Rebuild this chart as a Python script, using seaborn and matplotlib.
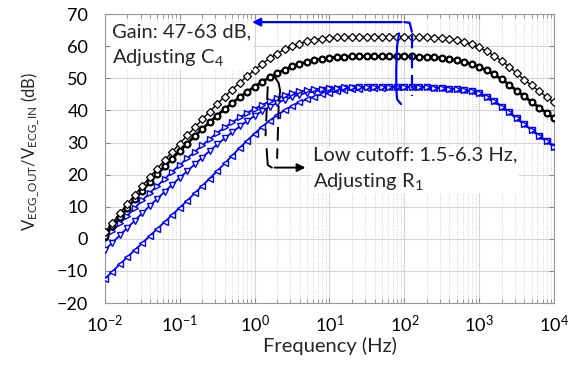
import numpy as np
import pandas as pd
import seaborn as sns
import matplotlib.pyplot as plt

# sweep grid, 10 points per decade
freq = np.logspace(-2, 4, 61)

# gain setting curves (black)
gain_63 = [2.0, 5.0, 8.0, 10.9, 13.7, 16.5, 19.2, 21.9, 24.5, 27.1,
           29.7, 32.2, 34.7, 37.2, 39.6, 42.0, 44.3, 46.5, 48.6, 50.6,
           52.6, 54.5, 56.2, 57.7, 59.0, 60.0, 60.8, 61.5, 62.0, 62.4,
           62.7, 62.9, 63.0, 63.0, 63.0, 63.0, 63.0, 63.0, 63.0, 63.0,
           63.0, 62.9, 62.9, 62.8, 62.7, 62.6, 62.3, 61.9, 61.4, 60.6,
           59.6, 58.4, 57.0, 55.4, 53.6, 51.6, 49.6, 47.8, 46.0, 44.2,
           42.5]
gain_57 = [1.0, 3.9, 6.8, 9.6, 12.3, 15.0, 17.6, 20.1, 22.6, 25.0,
           27.4, 29.7, 32.0, 34.2, 36.3, 38.4, 40.4, 42.3, 44.1, 45.8,
           47.4, 48.9, 50.3, 51.6, 52.7, 53.7, 54.5, 55.2, 55.7, 56.1,
           56.4, 56.6, 56.7, 56.8, 56.8, 56.8, 56.8, 56.8, 56.8, 56.8,
           56.8, 56.8, 56.7, 56.6, 56.5, 56.3, 56.0, 55.6, 55.1, 54.4,
           53.6, 52.5, 51.2, 49.7, 48.0, 46.2, 44.4, 42.6, 40.9, 39.2,
           37.6]

# low cutoff curves (blue)
cut_1 = [0.0, 2.4, 4.8, 7.2, 9.6, 12.0, 14.3, 16.5, 18.7, 20.9,
         23.0, 25.1, 27.1, 29.1, 31.1, 33.0, 34.7, 36.3, 37.8, 39.2,
         40.5, 41.7, 42.8, 43.8, 44.7, 45.4, 45.9, 46.3, 46.6, 46.8,
         47.0, 47.1, 47.2, 47.3, 47.3, 47.3, 47.3, 47.3, 47.3, 47.3,
         47.3, 47.3, 47.2, 47.2, 47.1, 47.0, 46.8, 46.6, 46.3, 45.9,
         45.3, 44.3, 42.9, 41.2, 39.4, 37.5, 35.7, 33.9, 32.1, 30.4,
         28.7]
cut_2 = [-3.5, -1.2, 1.1, 3.4, 5.7, 8.0, 10.3, 12.5, 14.7, 16.9,
         19.0, 21.1, 23.2, 25.3, 27.4, 29.4, 31.3, 33.2, 35.0, 36.7,
         38.3, 39.8, 41.1, 42.3, 43.3, 44.2, 44.9, 45.5, 46.0, 46.3,
         46.6, 46.8, 47.0, 47.1, 47.2, 47.2, 47.3, 47.3, 47.3, 47.3,
         47.3, 47.3, 47.2, 47.2, 47.1, 47.0, 46.8, 46.6, 46.3, 45.9,
         45.3, 44.3, 42.9, 41.2, 39.4, 37.5, 35.7, 33.9, 32.1, 30.4,
         28.7]
cut_3 = [-12.5, -10.2, -7.9, -5.7, -3.5, -1.3, 0.9, 3.1, 5.3, 7.5,
         9.7, 11.9, 14.2, 16.5, 18.8, 21.1, 23.5, 25.9, 28.3, 30.6,
         32.8, 34.9, 36.8, 38.5, 40.0, 41.3, 42.5, 43.5, 44.3, 45.0,
         45.5, 45.9, 46.3, 46.6, 46.8, 46.9, 47.0, 47.1, 47.2, 47.2,
         47.3, 47.3, 47.2, 47.2, 47.1, 47.0, 46.8, 46.6, 46.3, 45.9,
         45.3, 44.3, 42.9, 41.2, 39.4, 37.5, 35.7, 33.9, 32.1, 30.4,
         28.7]

sns.set_style('ticks')
plt.rcParams['font.family'] = ['Lato', 'DejaVu Sans']
plt.rcParams['mathtext.fontset'] = 'custom'
plt.rcParams['mathtext.rm'] = 'Lato'

fig = plt.figure(figsize=(5.79, 3.71), dpi=100)
ax = fig.add_axes([0.181, 0.183, 0.776, 0.779])

blue = '#0000ff'
styles = [
    (cut_3, blue, '<', 1.3, 4.5, 1.0),
    (cut_2, blue, 'v', 1.3, 4.5, 1.0),
    (cut_1, blue, '>', 1.3, 4.5, 1.0),
    (gain_57, 'black', 'o', 2.0, 4.2, 1.6),
    (gain_63, 'black', 'D', 1.0, 4.0, 0.9),
]
for vals, col, mk, lw, ms, mew in styles:
    sns.lineplot(x=freq, y=vals, ax=ax, color=col, lw=lw, marker=mk,
                 markersize=ms, markerfacecolor='white', markeredgecolor=col,
                 markeredgewidth=mew, zorder=3)

ax.set_xscale('log')
ax.set_xlim(1e-2, 1e4)
ax.set_ylim(-20, 70)
ax.set_yticks(range(-20, 71, 10))
ax.grid(True, which='major', color='#d4d4d4', lw=0.8)
ax.grid(True, which='minor', axis='x', color='#c8c8c8', lw=0.6, ls=':')
ax.tick_params(which='both', direction='in', top=True, right=True,
               colors='#888888', labelcolor='black', labelsize=13)
ax.tick_params(axis='y', pad=12)
ax.tick_params(axis='x', pad=8)
ax.tick_params(which='minor', length=3)
for s in ax.spines.values():
    s.set_color('#999999')

ax.set_xlabel('Frequency (Hz)', fontsize=14.5, labelpad=1)
ax.set_ylabel(r'V$\mathregular{_{ECG\_OUT}}$/V$\mathregular{_{ECG\_IN}}$ (dB)',
              fontsize=12)
ax.yaxis.set_label_coords(-0.14, 0.526)

# gain annotation
ax.text(0.0125, 67.2, 'Gain: 47-63 dB,\nAdjusting C$\\mathregular{_4}$', fontsize=14.5,
        va='top', ha='left', linespacing=1.45, zorder=5,
        bbox=dict(facecolor='white', edgecolor='none', pad=1))
ax.annotate('', xy=(0.85, 67.5), xytext=(100, 67.5),
            arrowprops=dict(arrowstyle='-|>', color=blue, lw=1.6, mutation_scale=12),
            zorder=6)
ax.plot([100, 118, 126], [67.5, 67.3, 64.5], color=blue, lw=1.6, zorder=6)
ax.plot([127, 127], [63.5, 44.5], color=blue, lw=1.6, ls=(0, (6, 3)), zorder=6)
ax.plot([85, 80, 78, 78, 80, 90], [64, 60, 53, 47, 43.5, 42], color=blue, lw=1.6, zorder=6)

# low cutoff annotation
ax.plot([1.85, 2.1, 2.2, 2.1], [50.5, 48.5, 46, 43], color='black', lw=1.4, zorder=6)
ax.plot([1.5, 1.4], [47.5, 32], color='black', lw=1.4, ls=(0, (7, 4)), zorder=6)
ax.plot([2.1, 2.0], [41.5, 25], color='black', lw=1.4, ls=(0, (7, 4)), zorder=6)
ax.plot([1.45, 1.5, 1.7], [28, 23.0, 22.2], color='black', lw=1.4, zorder=6)
ax.annotate('', xy=(5.2, 22.2), xytext=(1.7, 22.2),
            arrowprops=dict(arrowstyle='-|>', color='black', lw=1.4, mutation_scale=12),
            zorder=6)
ax.text(6.0, 28.8, 'Low cutoff: 1.5-6.3 Hz,\nAdjusting R$\\mathregular{_1}$', fontsize=14.5,
        va='top', ha='left', linespacing=1.45, zorder=5,
        bbox=dict(facecolor='white', edgecolor='none', pad=1))

fig.savefig('out.png', dpi=100)
